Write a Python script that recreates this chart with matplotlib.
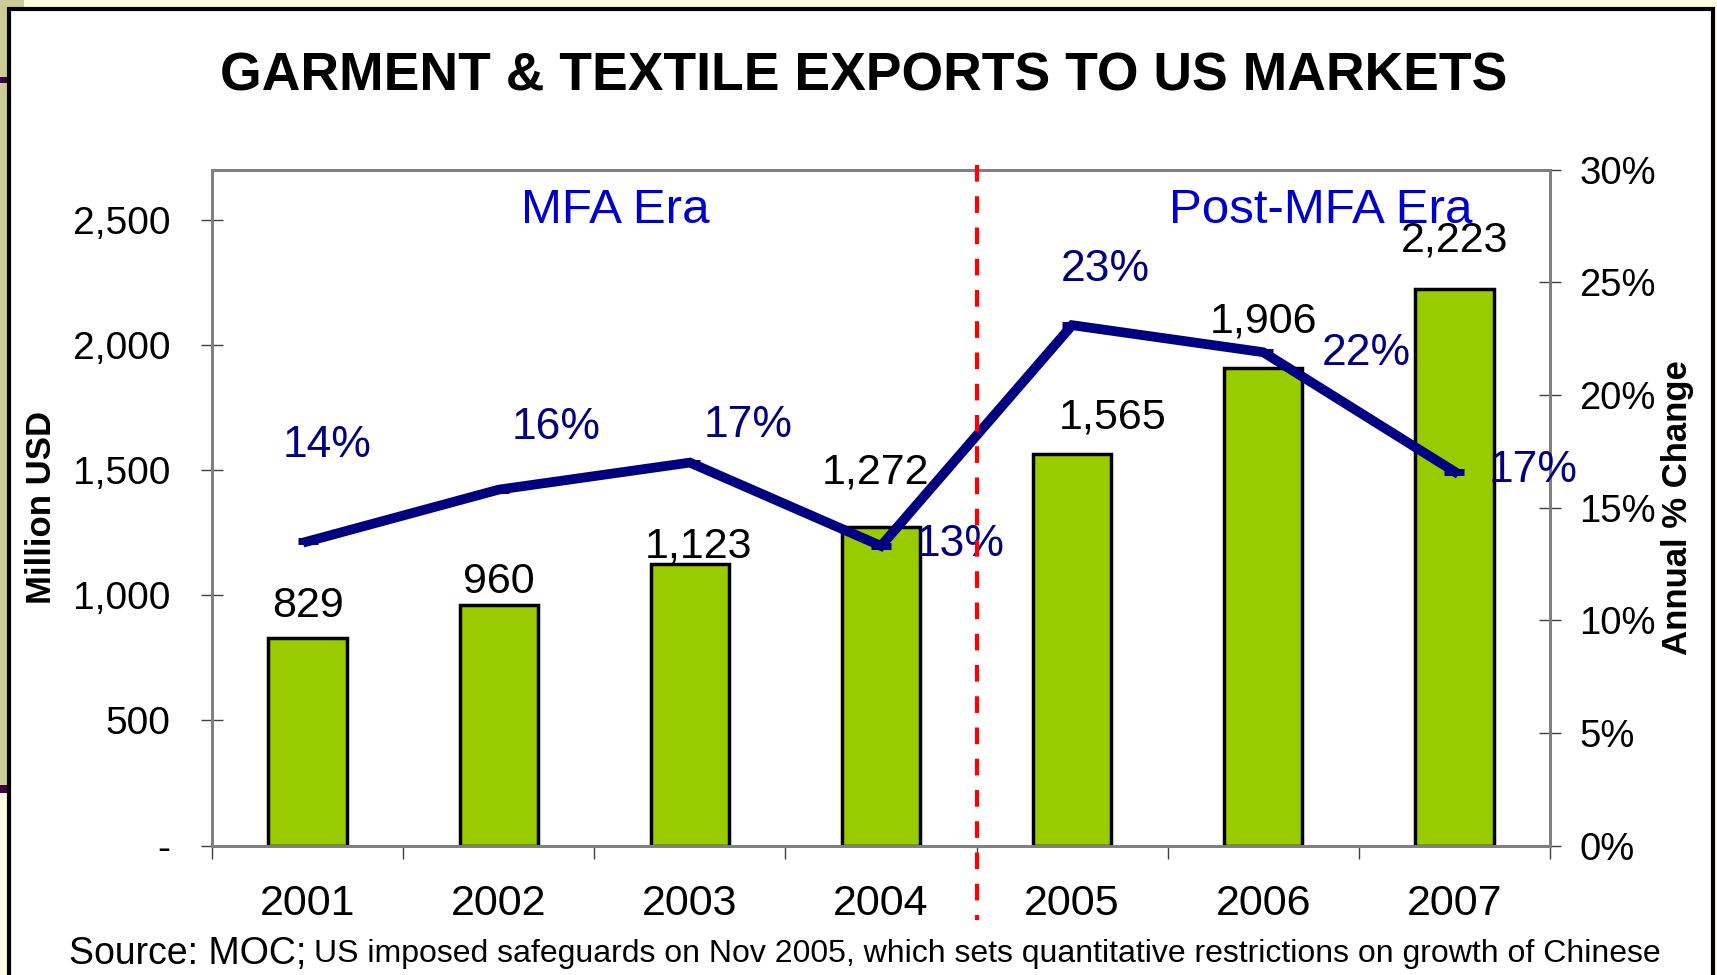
import numpy as np
import matplotlib.pyplot as plt
from matplotlib.patches import Rectangle
import matplotlib.transforms as mtransforms

plt.rcParams['font.family'] = ['Liberation Sans', 'DejaVu Sans']

years = ['2001', '2002', '2003', '2004', '2005', '2006', '2007']
exports = [829, 960, 1123, 1272, 1565, 1906, 2223]          # million USD
growth = [0.135, 0.158, 0.170, 0.133, 0.231, 0.219, 0.166]  # annual % change
growth_labels = ['14%', '16%', '17%', '13%', '23%', '22%', '17%']
left_ticks = [0, 500, 1000, 1500, 2000, 2500]
left_ticklabels = ['-', '500', '1,000', '1,500', '2,000', '2,500']
right_ticks = [0, 0.05, 0.10, 0.15, 0.20, 0.25, 0.30]
right_ticklabels = ['0%', '5%', '10%', '15%', '20%', '25%', '30%']

# label offsets in points (hand placed like the original)
bar_off = [(0, 23), (0, 17), (6, 13), (-4, 39), (29, 26), (0, 34), (0, 35)]
pct_off = [(14, 69), (41, 45), (42, 27), (57, 1), (24, 40), (74, -1), (57, 1)]

fig = plt.figure(figsize=(17.17, 9.75), dpi=100)
fig.patch.set_facecolor('#FFFFE0')

# slide decoration around the white panel (behind the axes)
deco = [
    Rectangle((0, 0.193), 0.006, 0.80, facecolor='#CCCC99', edgecolor='none'),
    Rectangle((0, 0.9928), 0.014, 0.0072, facecolor='#CCCC99', edgecolor='none'),
    Rectangle((0, 0.915), 0.006, 0.006, facecolor='#3F0040', edgecolor='none'),
    Rectangle((0, 0.187), 0.006, 0.008, facecolor='#3F0040', edgecolor='none'),
    Rectangle((0.0052, -0.01), 0.9926, 1.001, facecolor='white', edgecolor='black',
              linewidth=3),
]
for p in deco:
    p.set_transform(fig.transFigure)
    p.set_zorder(-5)
    fig.patches.append(p)

ax = fig.add_axes([0.1235, 0.1328, 0.7792, 0.6931])
ax.set_facecolor('none')
x = np.arange(len(years))
bars = ax.bar(x, exports, width=0.41, color='#99CC00', edgecolor='black',
              linewidth=2.5, zorder=2)
ax.set_xlim(-0.5, 6.5)
ax.set_ylim(0, 2700)

for s in ax.spines.values():
    s.set_color('#808080')
    s.set_linewidth(2)

ax.set_yticks(left_ticks)
ax.set_yticklabels(left_ticklabels)
ax.tick_params(axis='y', direction='inout', length=16, width=1, color='#404040',
               labelsize=28, pad=22)
ax.set_xticks(np.arange(-0.5, 7, 1))
ax.set_xticklabels([])
ax.tick_params(axis='x', which='major', direction='out', length=9, width=1,
               color='#404040')
ax.set_xticks(x, minor=True)
ax.set_xticklabels(years, minor=True)
ax.tick_params(axis='x', which='minor', length=0, labelsize=31, pad=28)
ax.set_ylabel('Million USD', fontsize=25, fontweight='bold', labelpad=11)

for b, v, off in zip(bars, exports, bar_off):
    ax.annotate(f'{v:,}', (b.get_x() + b.get_width() / 2, v), xytext=off,
                textcoords='offset points', ha='center', va='center',
                fontsize=31, zorder=5)

ax2 = ax.twinx()
ax2.set_ylim(0, 0.30)
ax2.plot(x, growth, color='#000080', linewidth=7, marker='_', markersize=15,
         markeredgewidth=5, solid_joinstyle='miter', zorder=4)
ax2.set_yticks(right_ticks)
ax2.set_yticklabels(right_ticklabels)
ax2.tick_params(axis='y', direction='inout', length=16, width=1, color='#404040',
                labelsize=27.5, pad=13)
for s in ax2.spines.values():
    s.set_color('#808080')
    s.set_linewidth(2)
ax2.set_ylabel('Annual % Change', fontsize=25, fontweight='bold', labelpad=4)

for xi, g, lab, off in zip(x, growth, growth_labels, pct_off):
    ax2.annotate(lab, (xi, g), xytext=off, textcoords='offset points',
                 ha='center', va='center', fontsize=32, color='#000080', zorder=6)

# MFA / post-MFA divider
trans = mtransforms.blended_transform_factory(ax.transData, ax.transAxes)
ax2.plot([3.5, 3.5], [1.007, -0.11], transform=trans, color='#FF0000',
         linewidth=3, dashes=(4, 3.5), clip_on=False, zorder=7)

ax2.text(1.61, 0.94, 'MFA Era', transform=trans, ha='center', va='center',
         fontsize=35.5, color='#0000CC')
ax2.text(5.30, 0.94, 'Post-MFA Era', transform=trans, ha='center', va='center',
         fontsize=35.5, color='#0000CC')

fig.text(0.503, 0.922, 'GARMENT & TEXTILE EXPORTS TO US MARKETS', ha='center',
         va='center', fontsize=38.5, fontweight='bold')

fig.text(0.040, 0.022, 'Source: MOC;', ha='left', va='center', fontsize=27)
fig.text(0.183, 0.022, 'US imposed safeguards on Nov 2005, which sets quantitative '
         'restrictions on growth of Chinese', ha='left', va='center', fontsize=23)

fig.savefig('out.png', dpi=100, facecolor=fig.get_facecolor())
